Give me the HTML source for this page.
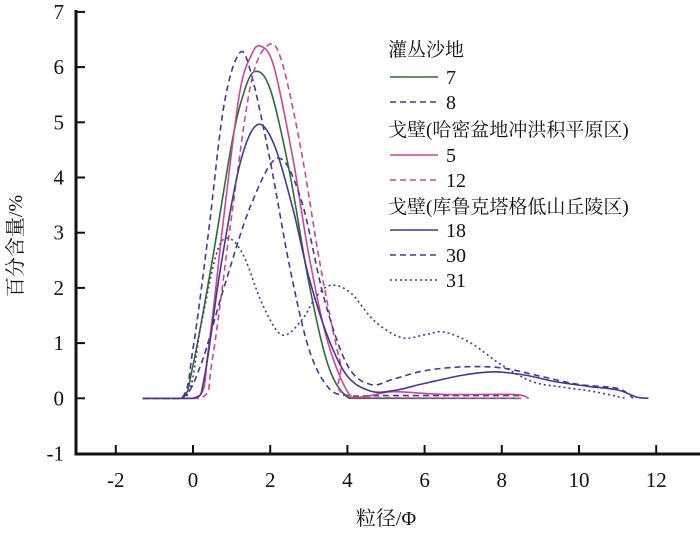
<!DOCTYPE html>
<html><head><meta charset="utf-8"><style>
body{margin:0;background:#fff;}
svg text{font-family:"Liberation Serif","Noto Serif CJK SC","Noto Sans CJK SC",serif;fill:#111;}
</style></head><body>
<svg width="700" height="532" viewBox="0 0 700 532">
<g id="axes"></g>
<g id="series"></g>
<g id="legend"></g>
<text x="14" y="238" font-size="20" transform="rotate(-90 22 238)" text-anchor="middle">百分含量/%</text>
<text x="386" y="525" font-size="20" text-anchor="middle">粒径/Φ</text>
</svg>
<script>
const xTicks=[-2,0,2,4,6,8,10,12];
const yTicks=[-1,0,1,2,3,4,5,6,7];
const names=["7","8","5","12","18","30","31"];
const xs7=[-1.3,-0.3,0,0.5,1,1.3,1.6,2,2.5,3,3.5,4,4.5,8.5];
const ys7=[0,0,0.6,2.5,4.6,5.5,5.92,5.6,4.1,2.1,0.6,0.02,0,0];
const xs8=[-1.3,-0.3,0,0.4,0.8,1.2,1.5,2,2.5,3,3.5,4,5,8.5];
const ys8=[0,0,0.9,3.0,5.3,6.25,5.9,4.3,2.4,0.9,0.2,0.05,0.05,0.05];
const xs5=[-1.3,0.1,0.4,0.8,1.2,1.5,1.75,2.1,2.6,3,3.5,4.1,4.6,5.2,6.5,8.3,8.7];
const ys5=[0,0,0.9,3.3,5.5,6.2,6.38,6.0,4.3,2.6,1.0,0.02,0.05,0.12,0.07,0.07,0];
const xs12=[-1.3,0.2,0.5,1,1.5,1.95,2.3,2.8,3.3,3.8,4.2,8.5];
const ys12=[0,0,0.7,3.3,5.7,6.4,6.1,4.5,2.4,0.7,0.02,0];
const xs18=[-1.3,0,0.3,0.7,1.2,1.65,2.1,2.6,3,3.5,4,4.6,5.2,6,7,7.8,8.6,9.4,10.2,11,11.5,11.8];
const ys18=[0,0,0.4,2.3,4.2,4.95,4.6,3.4,2.2,1.1,0.4,0.13,0.14,0.27,0.42,0.48,0.42,0.3,0.22,0.15,0.02,0];
const xs30=[-1.3,-0.3,0.2,0.8,1.5,2.2,2.8,3.4,4,4.6,5.2,6,7,8,9,10,11,11.4];
const ys30=[0,0,0.6,2.0,3.5,4.35,3.6,1.8,0.6,0.25,0.35,0.5,0.57,0.55,0.4,0.25,0.18,0];
const xs31=[-1.3,-0.2,0.2,0.6,0.9,1.3,1.8,2.3,2.8,3.2,3.6,4.1,4.7,5.4,6,6.5,7.2,8,8.8,9.6,10.4,11.2];
const ys31=[0,0,1.3,2.6,2.9,2.6,1.7,1.15,1.4,1.85,2.05,1.9,1.4,1.1,1.15,1.2,1.0,0.6,0.3,0.2,0.12,0];
const NS="http://www.w3.org/2000/svg";
const X0=76,XR=700,YB=454,YT=12;
function sx(v){return 193+v*38.6;}
function sy(v){return 398.3-v*55.2;}
function mk(t,a,p){const e=document.createElementNS(NS,t);for(const k in a)e.setAttribute(k,a[k]);p.appendChild(e);return e;}
const ax=document.getElementById('axes');
let l=mk('line',{x1:X0,y1:YT-2,x2:X0,y2:YB+1.5,stroke:'#111','stroke-width':3},ax);


l=mk('line',{x1:X0-1.5,y1:YB,x2:XR,y2:YB,stroke:'#111','stroke-width':3},ax);


yTicks.forEach(v=>{const y=sy(v);
 const t=mk('line',{x1:X0,y1:y,x2:X0+9,y2:y,stroke:'#111','stroke-width':2},ax);
 
 
 const tx=mk('text',{x:X0-12,y:y+7,'font-size':21,'text-anchor':'end'},ax);tx.textContent=v;
 
 });
xTicks.forEach(v=>{const x=sx(v);
 const t=mk('line',{x1:x,y1:YB,x2:x,y2:YB-9,stroke:'#111','stroke-width':2},ax);
 
 
 const tx=mk('text',{x:x,y:YB+33,'font-size':21,'text-anchor':'middle'},ax);tx.textContent=v;
 
 });
function path(xs,ys){const p=xs.map((x,i)=>[sx(x),sy(ys[i])]);let d='M'+p[0][0]+','+p[0][1];
 for(let i=0;i<p.length-1;i++){const a=p[Math.max(0,i-1)],b=p[i],c=p[i+1],e=p[Math.min(p.length-1,i+2)];
  const c1=[b[0]+(c[0]-a[0])/6,b[1]+(c[1]-a[1])/6],c2=[c[0]-(e[0]-b[0])/6,c[1]-(e[1]-b[1])/6];
  c1[1]=Math.min(c1[1],sy(0));c2[1]=Math.min(c2[1],sy(0));
  d+=' C'+c1[0]+','+c1[1]+' '+c2[0]+','+c2[1]+' '+c[0]+','+c[1];}return d;}
const green='#2e6b36',purple='#4a3591',pink='#c8479a';
const styles=[[green,''],[purple,'6 4'],[pink,''],[pink,'6 4'],[purple,''],[purple,'6 4'],[purple,'2 3']];
const data=[[xs7,ys7],[xs8,ys8],[xs5,ys5],[xs12,ys12],[xs18,ys18],[xs30,ys30],[xs31,ys31]];
const sg=document.getElementById('series');
data.forEach((d,i)=>{const p=mk('path',{d:path(d[0],d[1]),fill:'none',stroke:styles[i][0],'stroke-width':1.6,'stroke-dasharray':styles[i][1]},sg);
 
 });
const lg=document.getElementById('legend');
const rows=[['h','灌丛沙地',56],[0,'7',77],[1,'8',102],['h','戈壁(哈密盆地冲洪积平原区)',136],[2,'5',155],[3,'12',180],['h','戈壁(库鲁克塔格低山丘陵区)',213],[4,'18',230],[5,'30',255],[6,'31',280]];
rows.forEach(r=>{if(r[0]==='h'){const t=mk('text',{x:388,y:r[2],'font-size':19},lg);t.textContent=r[1];
  
  }
 else{const i=r[0];const ln=mk('line',{x1:390,y1:r[2],x2:438,y2:r[2],stroke:styles[i][0],'stroke-width':1.6,'stroke-dasharray':styles[i][1]},lg);
  
  
  const t=mk('text',{x:446,y:r[2]+7,'font-size':20},lg);t.textContent=r[1];
  
  }});
</script>
</body></html>
